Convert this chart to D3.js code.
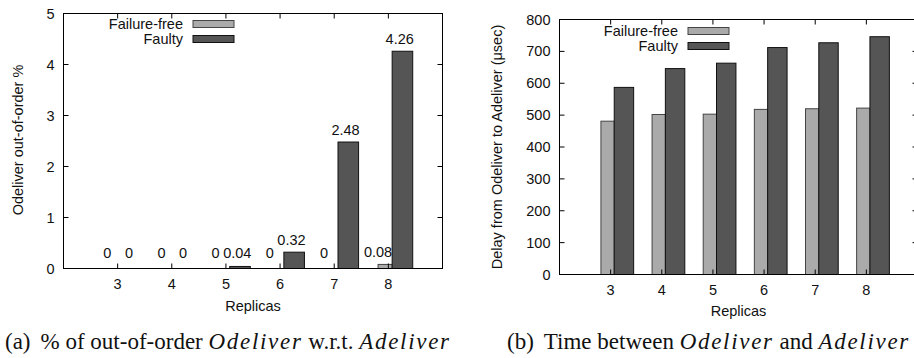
<!DOCTYPE html>
<html>
<head>
<meta charset="utf-8">
<script src="https://d3js.org/d3.v7.min.js"></script>
<style>
  body { margin: 0; background: #fff; }
  svg { display: block; }
  text { font-family: "Liberation Sans", Arial, Helvetica, sans-serif; fill: #111; }
  .cap { font-family: "Liberation Serif", "Times New Roman", serif; }
</style>
</head>
<body>
<div id="chart"></div>
<script>
// data
var replicas = [3, 4, 5, 6, 7, 8];
var ooFree = [0, 0, 0, 0, 0, 0.08];
var ooFaulty = [0, 0, 0.04, 0.32, 2.48, 4.26];
var delayFree = [481, 502, 503, 518, 520, 522];
var delayFaulty = [587, 646, 663, 712, 727, 746];
var ooTicks = [0, 1, 2, 3, 4, 5];
var delayTicks = [0, 100, 200, 300, 400, 500, 600, 700, 800];
var seriesNames = ['Failure-free', 'Faulty'];
var colors = ['#aaaaaa', '#555555'];
var strokes = ['#444', '#111'];

var W = 914, H = 358;
var fs = '14.5px';
var svg = d3.select('#chart').append('svg').attr('width', W).attr('height', H);

function drawPanel(p) {
  var g = svg.append('g');
  var x = d3.scaleLinear().domain([2, 9]).range([p.left, p.right]);
  var y = d3.scaleLinear().domain(p.ydomain).range([p.bottom, p.top]);
  var unit = x(3) - x(2);

  // bars: failure-free first, faulty next to it (slightly overlapping like gnuplot output)
  var offs = [[-0.19, 0.07], [0.07, 0.45]];
  [p.free, p.faulty].forEach(function(vals, s) {
    g.selectAll('rect.s' + s).data(vals).enter().append('rect')
      .attr('class', 's' + s)
      .attr('x', function(d, i) { return x(replicas[i] + offs[s][0]); })
      .attr('width', unit * (offs[s][1] - offs[s][0]))
      .attr('y', function(d) { return y(d); })
      .attr('height', function(d) { return y(0) - y(d); })
      .attr('fill', colors[s])
      .attr('stroke', strokes[s])
      .attr('stroke-width', 1);
  });

  // value labels
  if (p.labels) {
    var loff = [-0.19, 0.21];
    [p.free, p.faulty].forEach(function(vals, s) {
      g.selectAll('text.l' + s).data(vals).enter().append('text')
        .attr('class', 'l' + s)
        .attr('x', function(d, i) { return x(replicas[i] + loff[s]); })
        .attr('y', function(d) { return Math.min(y(d) - 7, y(0) - 11); })
        .attr('text-anchor', 'middle')
        .style('font-size', fs)
        .text(function(d) { return String(d); });
    });
  }

  // border
  g.append('rect')
    .attr('x', p.left).attr('y', p.top)
    .attr('width', p.right - p.left).attr('height', p.bottom - p.top)
    .attr('fill', 'none').attr('stroke', '#000').attr('stroke-width', 1);

  // ticks (inward, mirrored)
  var tl = 5;
  p.yticks.forEach(function(t) {
    g.append('line').attr('x1', p.left).attr('x2', p.left + tl)
      .attr('y1', y(t)).attr('y2', y(t)).attr('stroke', '#000');
    g.append('line').attr('x1', p.right).attr('x2', p.right - tl)
      .attr('y1', y(t)).attr('y2', y(t)).attr('stroke', '#000');
    g.append('text').attr('x', p.left - 9).attr('y', y(t) + 5)
      .attr('text-anchor', 'end').style('font-size', fs).text(t);
  });
  replicas.forEach(function(r) {
    g.append('line').attr('x1', x(r)).attr('x2', x(r))
      .attr('y1', p.bottom).attr('y2', p.bottom - tl).attr('stroke', '#000');
    g.append('line').attr('x1', x(r)).attr('x2', x(r))
      .attr('y1', p.top).attr('y2', p.top + tl).attr('stroke', '#000');
    g.append('text').attr('x', x(r)).attr('y', p.xtickY)
      .attr('text-anchor', 'middle').style('font-size', fs).text(r);
  });

  // axis titles
  g.append('text').attr('x', (p.left + p.right) / 2).attr('y', p.xlabelY)
    .attr('text-anchor', 'middle').style('font-size', fs).text('Replicas');
  g.append('text')
    .attr('transform', 'translate(' + p.ylabelX + ',' + p.ylabelY + ') rotate(-90)')
    .attr('text-anchor', 'middle').style('font-size', fs).text(p.ylabel);

  // legend
  seriesNames.forEach(function(n, s) {
    var cy = p.legY + s * 15;
    g.append('text').attr('x', p.legX).attr('y', cy + 5)
      .attr('text-anchor', 'end').style('font-size', fs).text(n);
    g.append('rect').attr('x', p.legX + 10).attr('y', cy - 3.5)
      .attr('width', 41).attr('height', 7)
      .attr('fill', colors[s]).attr('stroke', strokes[s]);
  });
}

drawPanel({
  left: 63.5, right: 442.5, top: 13.5, bottom: 268.5,
  ydomain: [0, 5], yticks: ooTicks, free: ooFree, faulty: ooFaulty, labels: true,
  xtickY: 289, xlabelY: 311, ylabelX: 23, ylabelY: 140,
  ylabel: 'Odeliver out-of-order %', legX: 183, legY: 24
});
drawPanel({
  left: 559.5, right: 917.5, top: 19.5, bottom: 274.5,
  ydomain: [0, 800], yticks: delayTicks, free: delayFree, faulty: delayFaulty, labels: false,
  xtickY: 295, xlabelY: 316, ylabelX: 502, ylabelY: 147,
  ylabel: 'Delay from Odeliver to Adeliver (\u03bcsec)', legX: 678, legY: 31
});

// sub-figure captions (LaTeX style: wide gap after the letter, spaced math italic)
function caption(xp, tag, parts) {
  var t = svg.append('text').attr('class', 'cap').attr('x', xp).attr('y', 349)
    .style('font-size', '23px');
  t.append('tspan').text(tag);
  parts.forEach(function(pt, i) {
    var ts = t.append('tspan')
      .style('font-style', pt[1] ? 'italic' : 'normal')
      .style('letter-spacing', pt[1] ? '1.7px' : '0px')
      .text(pt[0]);
    if (i === 0) ts.attr('dx', 10);
  });
}
caption(5, '(a)', [['% of out-of-order ', 0], ['Odeliver', 1], [' w.r.t. ', 0], ['Adeliver', 1]]);
caption(507, '(b)', [['Time between ', 0], ['Odeliver', 1], [' and ', 0], ['Adeliver', 1]]);
</script>
</body>
</html>
